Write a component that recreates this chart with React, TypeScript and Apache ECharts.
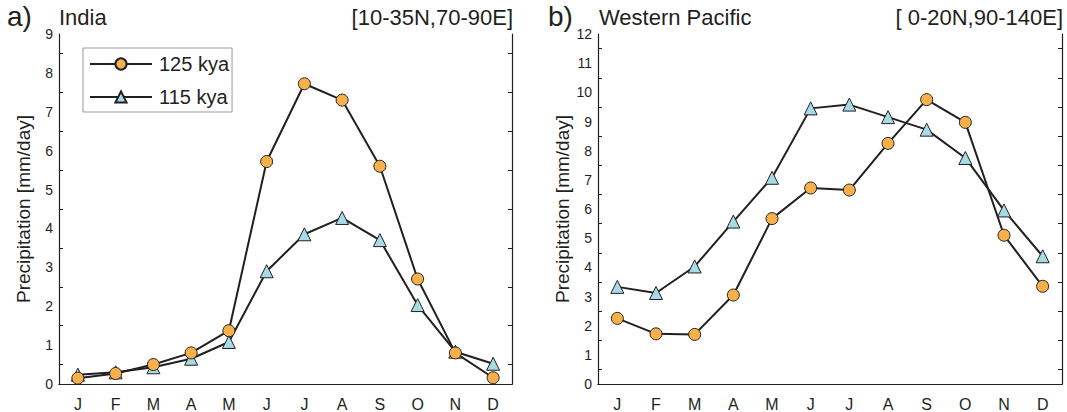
import React, { useEffect, useRef } from "react";
import * as echarts from "echarts";

const months = ["J", "F", "M", "A", "M", "J", "J", "A", "S", "O", "N", "D"];
const india125 = [0.15, 0.27, 0.5, 0.8, 1.37, 5.72, 7.72, 7.3, 5.6, 2.7, 0.8, 0.16];
const india115 = [0.24, 0.3, 0.43, 0.65, 1.08, 2.9, 3.85, 4.27, 3.7, 2.03, 0.83, 0.52];
const wp125 = [2.25, 1.72, 1.7, 3.05, 5.67, 6.72, 6.65, 8.25, 9.75, 8.97, 5.1, 3.35];
const wp115 = [3.33, 3.12, 4.03, 5.57, 7.07, 9.45, 9.58, 9.15, 8.72, 7.75, 5.95, 4.38];
const seriesNames = ["125 kya", "115 kya"];

const FONT = "'Liberation Sans', Arial, Helvetica, sans-serif";
const INK = "#231f20";
const ORANGE = "#f8b04a";
const CYAN = "#a6dbe6";

export default function App() {
  const ref = useRef<HTMLDivElement>(null);
  useEffect(() => {
    if (!ref.current) return;
    const chart = echarts.init(ref.current, undefined, { renderer: "svg" });

    const grids = [
      { left: 59, width: 453, top: 34, height: 351 },
      { left: 598, width: 464, top: 34, height: 351 },
    ];
    const xAxes: any[] = [];
    const yAxes: any[] = [];
    [0, 1].forEach((g) => {
      const common = {
        type: "category",
        data: months,
        gridIndex: g,
        boundaryGap: true,
        axisLine: { lineStyle: { color: INK, width: 1.2 } },
        axisTick: { alignWithLabel: true, inside: true, length: 5, lineStyle: { color: INK } },
        splitLine: { show: false },
      };
      xAxes.push({
        ...common,
        position: "bottom",
        axisLabel: { color: INK, fontFamily: FONT, fontSize: 16, margin: 12 },
      });
      xAxes.push({
        ...common,
        position: "top",
        axisLabel: { show: false },
      });
      const max = g === 0 ? 9 : 12;
      const ycommon = {
        type: "value",
        gridIndex: g,
        min: 0,
        max,
        interval: 1,
        axisLine: { show: true, lineStyle: { color: INK, width: 1.2 } },
        axisTick: { inside: true, length: 6, lineStyle: { color: INK } },
        minorTick: { show: true, splitNumber: 2, length: 4, lineStyle: { color: INK } },
        splitLine: { show: false },
      };
      yAxes.push({
        ...ycommon,
        position: "left",
        name: "Precipitation [mm/day]",
        nameLocation: "middle",
        nameGap: 26,
        nameTextStyle: { color: INK, fontFamily: FONT, fontSize: 19 },
        axisLabel: { color: INK, fontFamily: FONT, fontSize: 14, margin: 6 },
      });
      yAxes.push({
        ...ycommon,
        position: "right",
        axisLabel: { show: false },
      });
    });

    const mk = (name: string, data: number[], g: number) => {
      const circle = name === seriesNames[0];
      return {
        type: "line",
        name,
        data,
        xAxisIndex: g * 2,
        yAxisIndex: g * 2,
        symbol: circle ? "circle" : "triangle",
        symbolSize: circle ? 12 : 13,
        lineStyle: { color: INK, width: 2 },
        itemStyle: { color: circle ? ORANGE : CYAN, borderColor: INK, borderWidth: 1 },
        z: circle ? 3 : 2,
      };
    };

    const txt = (text: string, size: number, pos: any) => ({
      type: "text",
      ...pos,
      style: { text, fontSize: size, fontFamily: FONT, fill: INK },
    });

    chart.setOption({
      animation: false,
      grid: grids,
      xAxis: xAxes,
      yAxis: yAxes,
      legend: {
        data: seriesNames,
        orient: "vertical",
        left: 83,
        top: 48,
        itemWidth: 62,
        itemHeight: 14,
        itemGap: 13,
        padding: [6, 3, 5, 6],
        borderColor: "#999",
        borderWidth: 1,
        borderRadius: 0,
        backgroundColor: "#fff",
        textStyle: { color: INK, fontFamily: FONT, fontSize: 20, padding: [0, 0, 0, 2] },
      },
      series: [
        mk(seriesNames[1], india115, 0),
        mk(seriesNames[0], india125, 0),
        mk(seriesNames[1], wp115, 1),
        mk(seriesNames[0], wp125, 1),
      ],
      graphic: [
        txt("a)", 28, { left: 7, top: 2 }),
        txt("India", 22, { left: 59, top: 6 }),
        txt("[10-35N,70-90E]", 22, { right: 1067 - 513, top: 6 }),
        txt("b)", 28, { left: 548, top: 2 }),
        txt("Western Pacific", 22, { left: 599, top: 6 }),
        txt("[ 0-20N,90-140E]", 22, { right: 4, top: 6 }),
      ],
    });
    return () => chart.dispose();
  }, []);
  return <div ref={ref} style={{ width: 1067, height: 412, position: "absolute", left: 0, top: 0, background: "#fff" }} />;
}
